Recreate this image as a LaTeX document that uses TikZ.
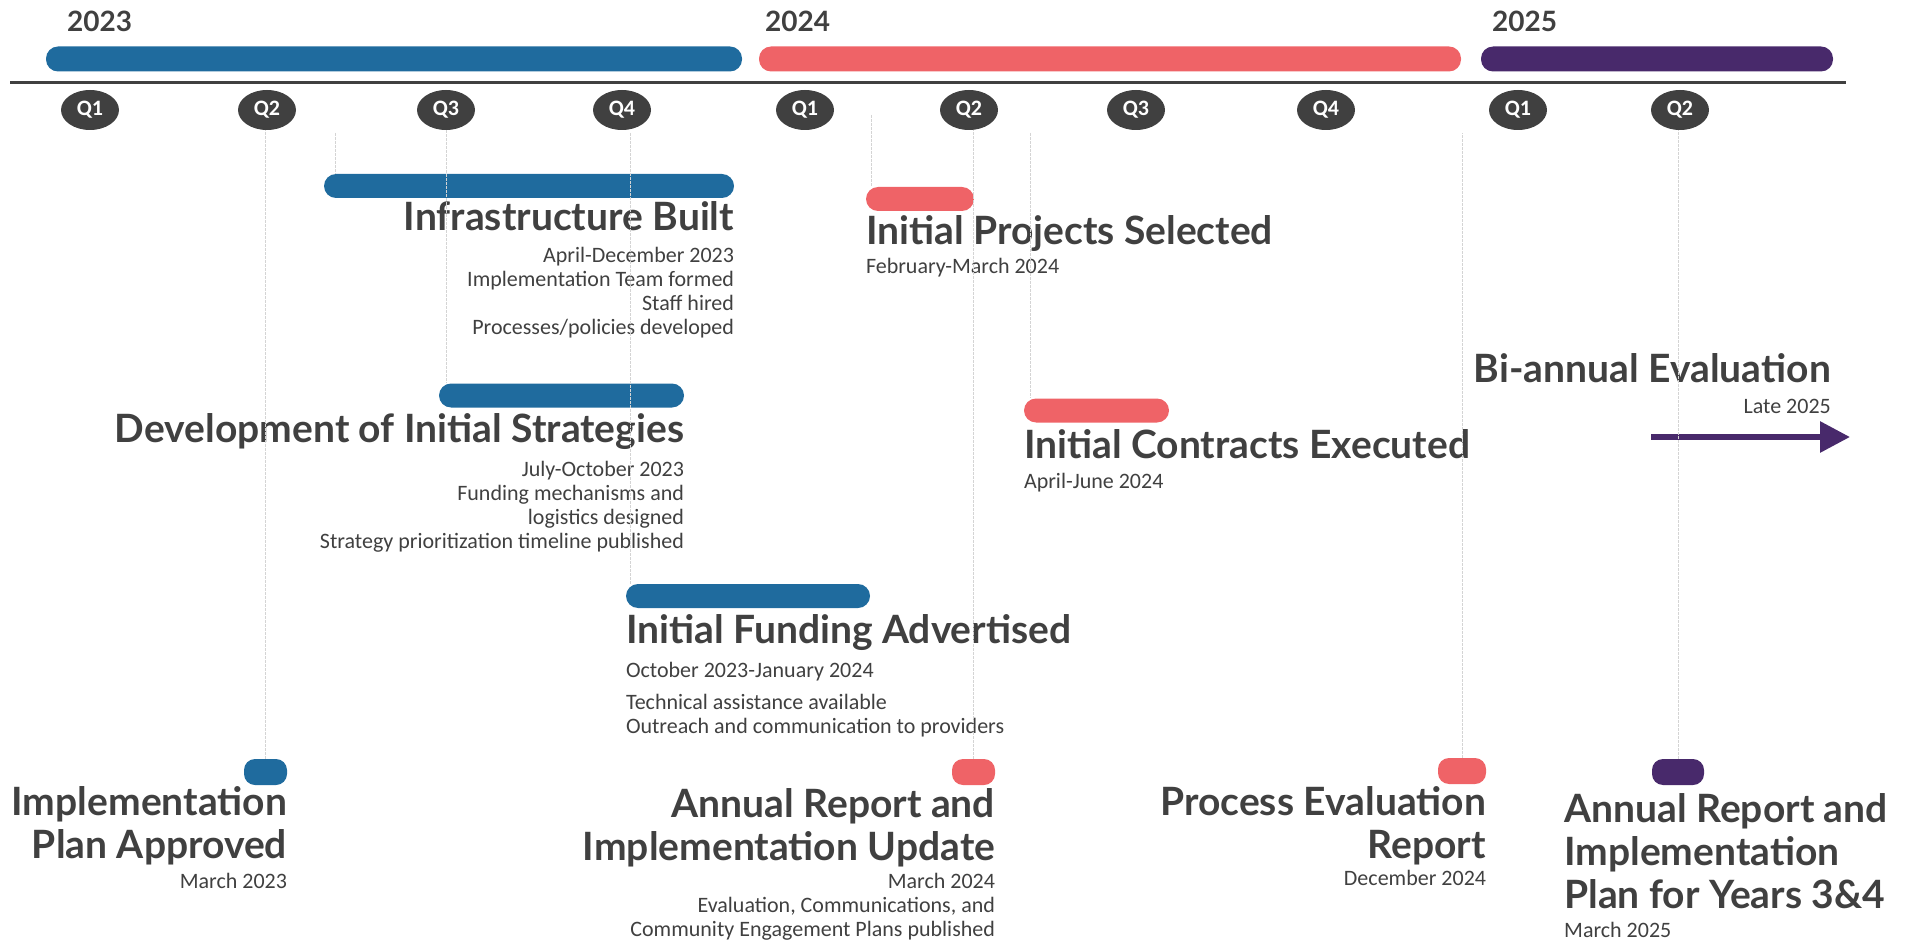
\documentclass[tikz,border=0pt]{standalone}
\usepackage{fontspec}
\setmainfont{Carlito}
\newfontfamily\headfont{Lato}
\usetikzlibrary{arrows.meta,positioning,shapes.geometric}

\definecolor{tlblue}{HTML}{1F6B9E}
\definecolor{tlcoral}{HTML}{EF6367}
\definecolor{tlpurple}{HTML}{48296B}
\definecolor{tldark}{HTML}{404040}
\definecolor{tlguide}{HTML}{D4D4D4}

\begin{document}
\begin{tikzpicture}[x=1pt,y=-1pt,
    pill/.style={rectangle,rounded corners=12pt,inner sep=0pt,minimum height=24pt},
    yearbar/.style={pill,minimum height=25pt},
    milestone/.style={rectangle,rounded corners=11pt,inner sep=0pt,minimum height=26pt},
    qtr/.style={ellipse,fill=tldark,inner sep=0pt,minimum width=58pt,minimum height=40pt,
        text=white,font=\bfseries\fontsize{22}{22}\selectfont},
    yr/.style={text=tldark,inner sep=0pt,anchor=base west,font=\headfont\bfseries\fontsize{28}{28}\selectfont},
    ttl/.style={text=tldark,inner sep=0pt,font=\headfont\bfseries\fontsize{39}{43}\selectfont},
    txt/.style={text=tldark,inner sep=0pt,font=\fontsize{22}{24}\selectfont},
    guide/.style={draw=tlguide,line width=0.8pt,dash pattern=on 3pt off 1pt}]

    \useasboundingbox (0,0) rectangle (1906,941);

    % years
    \node[yr] (y23) at (67,32) {2023};
    \node[yr] (y24) at (765,32) {2024};
    \node[yr] (y25) at (1492,32) {2025};

    \node[yearbar,fill=tlblue,minimum width=696pt] (yb23) at (394,59) {};
    \node[yearbar,fill=tlcoral,minimum width=702pt] (yb24) at (1110,59) {};
    \node[yearbar,fill=tlpurple,minimum width=352pt] (yb25) at (1657,59) {};

    \coordinate (axl) at (10,83);
    \coordinate (axr) at (1846,83);
    \draw[tldark,line width=3pt] (axl) -- (axr);

    % quarters
    \foreach \q/\x/\lbl in {qa/90/Q1,qb/267/Q2,qc/446/Q3,qd/622/Q4,qe/805/Q1,
                            qf/969/Q2,qg/1136/Q3,qh/1326/Q4,qi/1518/Q1,qj/1680/Q2}
        \node[qtr] (\q) at (\x,110) {\lbl};

    % bars (multi-line nodes sit on the base of their last line)
    \node[pill,fill=tlblue,minimum width=410pt] (infbar) at (529,186) {};
    \node[ttl,anchor=base east] (inf) at ([yshift=-32pt]infbar.south east) {Infrastructure Built};
    \node[txt,anchor=base east,align=right] (infd) at ([yshift=-104pt]inf.base east)
        {April-December 2023\\Implementation Team formed\\Staff hired\\Processes/policies developed};

    \node[pill,fill=tlblue,minimum width=245pt] (devbar) at (561.5,395.5) {};
    \node[ttl,anchor=base east] (dev) at ([yshift=-35pt]devbar.south east) {Development of Initial Strategies};
    \node[txt,anchor=base east,align=right] (devd) at ([yshift=-106pt]dev.base east)
        {July-October 2023\\Funding mechanisms and\\logistics designed\\Strategy prioritization timeline published};

    \node[pill,fill=tlblue,minimum width=244pt] (fundbar) at (748,596) {};
    \node[ttl,anchor=base west] (fund) at ([yshift=-35pt]fundbar.south west) {Initial Funding Advertised};
    \node[txt,anchor=base west] (fundd) at ([yshift=-34pt]fund.base west) {October 2023-January 2024};
    \node[txt,anchor=base west,align=left] (fundx) at ([yshift=-56pt]fundd.base west)
        {Technical assistance available\\Outreach and communication to providers};

    \node[pill,fill=tlcoral,minimum width=108pt] (projbar) at (920,199) {};
    \node[ttl,anchor=base west] (proj) at ([yshift=-33pt]projbar.south west) {Initial Projects Selected};
    \node[txt,anchor=base west] (projd) at ([yshift=-29pt]proj.base west) {February-March 2024};

    \node[pill,fill=tlcoral,minimum width=145pt] (contbar) at (1096.5,410.5) {};
    \node[ttl,anchor=base west] (cont) at ([yshift=-36pt]contbar.south west) {Initial Contracts Executed};
    \node[txt,anchor=base west] (contd) at ([yshift=-30pt]cont.base west) {April-June 2024};

    \node[ttl,anchor=base east] (bia) at (1831,382) {Bi-annual Evaluation};
    \node[txt,anchor=base east] (biad) at ([yshift=-31pt]bia.base east) {Late 2025};
    \coordinate (ars) at (1651,437);
    \coordinate (are) at (1850,437);
    \draw[tlpurple,line width=6pt,-{Triangle[length=30pt,width=30pt]}] (ars) -- (are);

    % milestones
    \node[milestone,fill=tlblue,minimum width=43pt] (m1) at (265.5,772) {};
    \node[ttl,anchor=base east,align=right] (m1t) at ([yshift=-73pt]m1.south east) {Implementation\\Plan Approved};
    \node[txt,anchor=base east] (m1d) at ([yshift=-30pt]m1t.base east) {March 2023};

    \node[milestone,fill=tlcoral,minimum width=43pt] (m2) at (973.5,772) {};
    \node[ttl,anchor=base east,align=right] (m2t) at ([yshift=-75pt]m2.south east) {Annual Report and\\Implementation Update};
    \node[txt,anchor=base east,align=right] (m2d) at ([yshift=-76pt]m2t.base east)
        {March 2024\\Evaluation, Communications, and\\Community Engagement Plans published};

    \node[milestone,fill=tlcoral,minimum width=48pt] (m3) at (1462,771) {};
    \node[ttl,anchor=base east,align=right] (m3t) at ([yshift=-74pt]m3.south east) {Process Evaluation\\Report};
    \node[txt,anchor=base east] (m3d) at ([yshift=-27pt]m3t.base east) {December 2024};

    \node[milestone,fill=tlpurple,minimum width=52pt] (m4) at (1678,772) {};
    \node[ttl,anchor=base west,align=left] (m4t) at (1564,908) {Annual Report and\\Implementation\\Plan for Years 3\&4};
    \node[txt,anchor=base west] (m4d) at ([yshift=-29pt]m4t.base west) {March 2025};

    % guide lines
    \coordinate (g2) at (335,133);
    \coordinate (g4) at (630,133);
    \coordinate (g5) at (871,115);
    \coordinate (g7) at (1030,133);
    \coordinate (g8) at (1461,133);
    \draw[guide] (m1.north) -- (m1.north |- qb.south);
    \draw[guide] (g2) -- (g2 |- infbar.north);
    \draw[guide] (qc.south) -- (qc.south |- devbar.north);
    \draw[guide] (g4) -- (g4 |- fundbar.north);
    \draw[guide] (g5) -- (g5 |- projbar.north);
    \draw[guide] (m2.north) -- (m2.north |- qf.south);
    \draw[guide] (g7) -- (g7 |- contbar.north);
    \draw[guide] (m3.north) -- (m3.north |- g8);
    \draw[guide] (m4.north) -- (m4.north |- qj.south);
\end{tikzpicture}
\end{document}
